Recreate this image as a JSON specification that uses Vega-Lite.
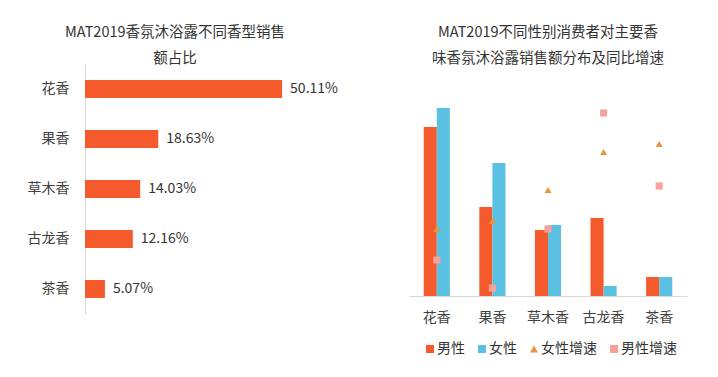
{
  "$schema": "https://vega.github.io/schema/vega-lite/v6.json",
  "padding": {"left": 27, "top": 24, "right": 10, "bottom": 10},
  "bounds": "flush",
  "spacing": 88,
  "config": {
    "font": "Noto Sans CJK SC",
    "view": {"stroke": null},
    "title": {"fontSize": 14.5, "fontWeight": "normal", "color": "#333333", "lineHeight": 26, "offset": -2},
    "axis": {"labelColor": "#404040", "labelFontSize": 14, "domainColor": "#D9D9D9", "ticks": false, "grid": false, "title": null}
  },
  "datasets": {
    "share": [
      {"type": "花香", "share": 0.5011},
      {"type": "果香", "share": 0.1863},
      {"type": "草木香", "share": 0.1403},
      {"type": "古龙香", "share": 0.1216},
      {"type": "茶香", "share": 0.0507}
    ],
    "sales": [
      {"type": "花香", "series": "男性", "value": 169},
      {"type": "花香", "series": "女性", "value": 188},
      {"type": "果香", "series": "男性", "value": 89},
      {"type": "果香", "series": "女性", "value": 133},
      {"type": "草木香", "series": "男性", "value": 66},
      {"type": "草木香", "series": "女性", "value": 71},
      {"type": "古龙香", "series": "男性", "value": 78},
      {"type": "古龙香", "series": "女性", "value": 10},
      {"type": "茶香", "series": "男性", "value": 19},
      {"type": "茶香", "series": "女性", "value": 19}
    ],
    "growth": [
      {"type": "花香", "series": "女性增速", "value": 67},
      {"type": "果香", "series": "女性增速", "value": 75},
      {"type": "草木香", "series": "女性增速", "value": 106},
      {"type": "古龙香", "series": "女性增速", "value": 144},
      {"type": "茶香", "series": "女性增速", "value": 152},
      {"type": "花香", "series": "男性增速", "value": 36},
      {"type": "果香", "series": "男性增速", "value": 8},
      {"type": "草木香", "series": "男性增速", "value": 67},
      {"type": "古龙香", "series": "男性增速", "value": 183},
      {"type": "茶香", "series": "男性增速", "value": 110}
    ]
  },
  "hconcat": [
    {
      "width": 236,
      "height": 250,
      "title": {"text": ["MAT2019香氛沐浴露不同香型销售", "额占比"], "anchor": "middle", "frame": "group", "dx": -28},
      "data": {"name": "share"},
      "encoding": {
        "y": {"field": "type", "type": "nominal", "sort": null,
              "scale": {"paddingInner": 0.64, "paddingOuter": 0.32},
              "axis": {"labelPadding": 16, "labelFontSize": 14}},
        "x": {"field": "share", "type": "quantitative", "scale": {"domain": [0, 0.6]}, "axis": null}
      },
      "layer": [
        {"mark": {"type": "bar", "color": "#F55A2C"}},
        {"mark": {"type": "text", "align": "left", "baseline": "middle", "dx": 8, "fontSize": 14, "color": "#333333"},
         "encoding": {"text": {"field": "share", "type": "quantitative", "format": ".2%"}}}
      ]
    },
    {
      "width": 278,
      "height": 232,
      "title": {"text": ["MAT2019不同性别消费者对主要香", "味香氛沐浴露销售额分布及同比增速"], "anchor": "middle", "frame": "group"},
      "encoding": {
        "x": {"field": "type", "type": "nominal", "sort": ["花香", "果香", "草木香", "古龙香", "茶香"],
              "scale": {"paddingInner": 0.53, "paddingOuter": 0.265},
              "axis": {"labelAngle": 0, "labelPadding": 14, "labelFontSize": 14}}
      },
      "layer": [
        {
          "data": {"name": "sales"},
          "mark": {"type": "bar"},
          "encoding": {
            "xOffset": {"field": "series", "type": "nominal", "sort": ["男性", "女性"], "scale": {"paddingInner": 0, "paddingOuter": 0}},
            "y": {"field": "value", "type": "quantitative", "scale": {"domain": [0, 232]}, "axis": null},
            "color": {"field": "series", "type": "nominal",
                      "scale": {"domain": ["男性", "女性", "女性增速", "男性增速"], "range": ["#F55A2C", "#5BC1E3", "#E6953C", "#F8A19B"]},
                      "legend": {"orient": "none", "legendX": 338, "legendY": 278, "direction": "horizontal", "title": null, "labelFontSize": 14, "labelColor": "#333333", "symbolSize": 64, "labelOffset": 0, "columnPadding": 10}}
          }
        },
        {
          "data": {"name": "growth"},
          "mark": {"type": "point", "filled": true, "opacity": 1, "size": 50},
          "encoding": {
            "y": {"field": "value", "type": "quantitative", "scale": {"domain": [0, 232]}, "axis": null},
            "color": {"field": "series", "type": "nominal",
                      "scale": {"domain": ["男性", "女性", "女性增速", "男性增速"], "range": ["#F55A2C", "#5BC1E3", "#E6953C", "#F8A19B"]}},
            "shape": {"field": "series", "type": "nominal",
                      "scale": {"domain": ["男性", "女性", "女性增速", "男性增速"], "range": ["square", "square", "triangle-up", "square"]}}
          }
        }
      ]
    }
  ]
}
